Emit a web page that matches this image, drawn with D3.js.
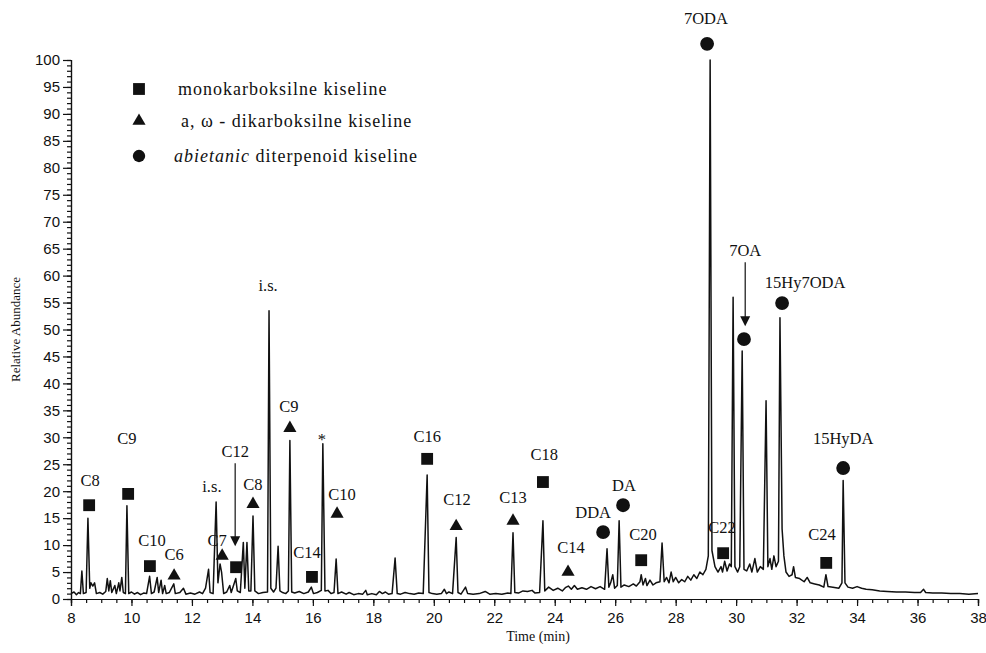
<!DOCTYPE html>
<html>
<head>
<meta charset="utf-8">
<script src="https://cdn.jsdelivr.net/npm/d3@7"></script>
<style>
    body { margin: 0; background: #fff; }
    svg { display: block; font-family: "Liberation Serif", "DejaVu Serif", serif; }
    .axis text { font-size: 15px; fill: #111; }
    .axis path, .axis line { stroke: #111; stroke-width: 1.2; }
    .peak-label { font-size: 16.5px; fill: #111; text-anchor: middle; }
    .legend-label { font-size: 18px; letter-spacing: 1px; fill: #111; }
</style>
</head>
<body>
<div id="chart"></div>
<script>
// Chromatogram trace: [time (min), relative abundance]
const trace = [
    [8.00, 1.0], [8.10, 1.3], [8.18, 0.8], [8.25, 1.2], [8.31, 1.0], [8.36, 5.2], [8.41, 1.0],
    [8.50, 1.2], [8.56, 15.0], [8.62, 2.0], [8.66, 3.0], [8.72, 2.4], [8.78, 3.0], [8.84, 1.0],
    [8.95, 1.2], [9.05, 0.9], [9.15, 1.4], [9.20, 3.8], [9.25, 1.5], [9.30, 3.4], [9.35, 1.2],
    [9.45, 2.5], [9.50, 1.0], [9.58, 3.0], [9.62, 1.5], [9.68, 4.0], [9.73, 1.2], [9.80, 1.0],
    [9.85, 17.3], [9.91, 1.0], [10.0, 1.3], [10.1, 0.9], [10.2, 1.2], [10.3, 0.8], [10.4, 1.1],
    [10.5, 1.0], [10.6, 4.2], [10.66, 1.0], [10.75, 1.3], [10.85, 4.0], [10.9, 1.2], [10.98, 3.5],
    [11.03, 1.0], [11.1, 2.5], [11.15, 1.0], [11.25, 1.2], [11.4, 2.8], [11.45, 1.0], [11.6, 1.2],
    [11.72, 2.0], [11.8, 0.9], [11.95, 1.1], [12.1, 0.9], [12.25, 1.3], [12.35, 1.0], [12.45, 2.0],
    [12.55, 5.5], [12.6, 1.2], [12.7, 1.0], [12.8, 18.0], [12.86, 3.0], [12.93, 6.5], [12.98, 5.0],
    [13.05, 1.0], [13.15, 1.3], [13.25, 2.5], [13.3, 1.2], [13.45, 3.8], [13.5, 1.5], [13.6, 1.2],
    [13.7, 10.5], [13.75, 2.0], [13.82, 10.5], [13.88, 1.5], [13.95, 1.5], [14.02, 15.4], [14.08, 1.5],
    [14.2, 1.0], [14.35, 1.2], [14.5, 1.3], [14.55, 53.5], [14.61, 2.0], [14.7, 1.3], [14.78, 2.0],
    [14.85, 9.8], [14.91, 1.5], [15.0, 1.2], [15.1, 1.0], [15.19, 1.5], [15.24, 29.4], [15.3, 1.3],
    [15.4, 1.1], [15.55, 1.4], [15.7, 1.0], [15.85, 1.3], [15.95, 2.2], [16.02, 1.0], [16.15, 1.2],
    [16.28, 1.6], [16.33, 28.8], [16.4, 1.5], [16.5, 1.6], [16.6, 1.0], [16.7, 1.2], [16.77, 7.4],
    [16.83, 1.0], [16.95, 1.3], [17.1, 0.9], [17.2, 1.2], [17.35, 0.8], [17.5, 1.0], [17.65, 0.9],
    [17.75, 1.6], [17.8, 0.8], [17.95, 1.0], [18.1, 0.8], [18.2, 1.4], [18.3, 1.0], [18.4, 1.3],
    [18.5, 0.9], [18.62, 1.0], [18.72, 7.6], [18.79, 1.0], [18.9, 0.9], [19.05, 1.2], [19.2, 1.0],
    [19.35, 0.9], [19.5, 1.1], [19.65, 1.0], [19.78, 23.0], [19.84, 1.2], [19.95, 1.0], [20.1, 0.9],
    [20.25, 1.0], [20.35, 1.8], [20.42, 1.0], [20.5, 1.3], [20.62, 1.0], [20.74, 11.4], [20.8, 1.2],
    [20.9, 0.9], [21.05, 2.2], [21.12, 1.0], [21.3, 0.9], [21.5, 1.0], [21.7, 1.4], [21.85, 0.9],
    [22.05, 1.0], [22.25, 0.9], [22.45, 1.1], [22.55, 1.0], [22.62, 12.3], [22.68, 1.2], [22.8, 1.1],
    [22.95, 1.5], [23.1, 1.4], [23.25, 1.6], [23.35, 1.1], [23.5, 1.2], [23.61, 14.5], [23.67, 1.5],
    [23.8, 2.2], [23.95, 1.6], [24.1, 2.0], [24.25, 1.5], [24.35, 2.1], [24.45, 2.4], [24.55, 1.8],
    [24.65, 2.5], [24.75, 1.8], [24.9, 2.1], [25.05, 1.8], [25.2, 2.3], [25.35, 1.9], [25.5, 2.3],
    [25.65, 1.8], [25.73, 9.3], [25.79, 2.2], [25.85, 3.0], [25.92, 4.5], [25.98, 2.0], [26.07, 2.5],
    [26.13, 14.5], [26.19, 2.2], [26.3, 2.6], [26.45, 2.3], [26.6, 2.8], [26.7, 2.4], [26.82, 3.2],
    [26.86, 4.5], [26.92, 2.6], [27.0, 3.8], [27.05, 2.5], [27.15, 3.5], [27.25, 2.6], [27.35, 3.0],
    [27.48, 3.2], [27.55, 10.4], [27.62, 3.2], [27.7, 4.0], [27.78, 3.0], [27.85, 5.0], [27.92, 3.2],
    [28.0, 4.0], [28.1, 3.0], [28.2, 3.6], [28.3, 3.2], [28.4, 4.2], [28.5, 3.5], [28.6, 4.5],
    [28.7, 3.8], [28.8, 5.0], [28.9, 4.5], [29.0, 5.5], [29.08, 8.0], [29.14, 100], [29.2, 9.0],
    [29.3, 6.0], [29.4, 5.0], [29.5, 6.0], [29.55, 5.0], [29.62, 7.0], [29.7, 5.2], [29.78, 6.5],
    [29.84, 6.0], [29.9, 56], [29.96, 6.0], [30.05, 5.0], [30.12, 6.0], [30.2, 46], [30.26, 5.5],
    [30.35, 5.2], [30.45, 6.5], [30.52, 5.0], [30.62, 7.5], [30.7, 5.0], [30.8, 6.0], [30.9, 5.5],
    [30.99, 36.8], [31.05, 6.0], [31.12, 7.5], [31.18, 5.5], [31.25, 8.0], [31.32, 6.0], [31.4, 7.0],
    [31.45, 52.2], [31.52, 13], [31.58, 8.0], [31.65, 5.0], [31.75, 4.2], [31.85, 4.5], [31.9, 6.0],
    [31.96, 4.0], [32.1, 3.8], [32.25, 3.2], [32.35, 4.0], [32.45, 3.0], [32.6, 2.8], [32.75, 2.6],
    [32.9, 2.2], [32.97, 4.5], [33.04, 2.3], [33.2, 2.2], [33.4, 2.0], [33.5, 3.0], [33.54, 22],
    [33.6, 3.0], [33.7, 2.2], [33.85, 2.0], [34.0, 2.3], [34.15, 2.0], [34.3, 1.8], [34.5, 1.7],
    [34.75, 1.5], [35.0, 1.4], [35.3, 1.3], [35.6, 1.3], [35.9, 1.2], [36.1, 1.2], [36.2, 1.8],
    [36.27, 1.2], [36.5, 1.1], [36.8, 1.1], [37.1, 1.0], [37.4, 1.0], [37.7, 0.9], [38.0, 1.0]
];

// Peak annotations: marker at (t, v), label at (lt, lv)
const monoAcids = [
    {name: "C8", t: 8.60, v: 17.4, lt: 8.63, lv: 22.1},
    {name: "C9", t: 9.89, v: 19.5, lt: 9.85, lv: 29.9},
    {name: "C10", t: 10.61, v: 6.1, lt: 10.68, lv: 10.9},
    {name: "C12", t: 13.46, v: 5.9, lt: 13.43, lv: 27.5, arrow: [25.2, 9.8]},
    {name: "C14", t: 15.97, v: 4.1, lt: 15.81, lv: 8.7},
    {name: "C16", t: 19.78, v: 26.0, lt: 19.78, lv: 30.2},
    {name: "C18", t: 23.61, v: 21.7, lt: 23.65, lv: 26.9},
    {name: "C20", t: 26.86, v: 7.2, lt: 26.92, lv: 12.1},
    {name: "C22", t: 29.57, v: 8.5, lt: 29.53, lv: 13.4},
    {name: "C24", t: 32.98, v: 6.7, lt: 32.84, lv: 12.1}
];

const diAcids = [
    {name: "C6", t: 11.41, v: 4.3, lt: 11.41, lv: 8.3},
    {name: "C7", t: 13.00, v: 8.0, lt: 12.83, lv: 10.9},
    {name: "C8", t: 14.02, v: 17.6, lt: 14.02, lv: 21.3},
    {name: "C9", t: 15.24, v: 31.7, lt: 15.21, lv: 35.8},
    {name: "C10", t: 16.80, v: 15.8, lt: 16.96, lv: 19.5},
    {name: "C12", t: 20.74, v: 13.5, lt: 20.77, lv: 18.6},
    {name: "C13", t: 22.62, v: 14.5, lt: 22.62, lv: 18.9},
    {name: "C14", t: 24.44, v: 5.0, lt: 24.54, lv: 9.6}
];

const abieticAcids = [
    {name: "DDA", t: 25.60, v: 12.4, lt: 25.27, lv: 16.1},
    {name: "DA", t: 26.26, v: 17.4, lt: 26.29, lv: 21.2},
    {name: "7ODA", t: 29.04, v: 103.0, lt: 29.00, lv: 107.8},
    {name: "7OA", t: 30.26, v: 48.2, lt: 30.30, lv: 64.7, arrow: [62.5, 50.6]},
    {name: "15Hy7ODA", t: 31.52, v: 54.9, lt: 32.28, lv: 58.8},
    {name: "15HyDA", t: 33.54, v: 24.3, lt: 33.54, lv: 29.9}
];

const otherLabels = [
    {name: "i.s.", lt: 12.66, lv: 21.0},
    {name: "i.s.", lt: 14.52, lv: 58.3},
    {name: "*", lt: 16.30, lv: 29.6}
];

const legendItems = ["mono", "di", "abietic"];

const yMajorTicks = d3.range(0, 101, 5);
const yMinorTicks = d3.range(0, 101, 1);
const xMajorTicks = d3.range(8, 39, 2);
const xMinorTicks = d3.range(8, 38.01, 0.5);

const width = 986, height = 653;

const svg = d3.select("#chart").append("svg")
    .attr("width", width)
    .attr("height", height);

const x = d3.scaleLinear().domain([8, 38]).range([71, 978]);
const y = d3.scaleLinear().domain([0, 100]).range([599, 60]);

// Axes
const yAxisMinor = d3.axisLeft(y).tickValues(yMinorTicks).tickSize(4).tickFormat("");
const yAxisMajor = d3.axisLeft(y).tickValues(yMajorTicks).tickSize(8).tickPadding(3);
const xAxisMinor = d3.axisBottom(x).tickValues(xMinorTicks).tickSize(4).tickFormat("");
const xAxisMajor = d3.axisBottom(x).tickValues(xMajorTicks).tickSize(7).tickPadding(6);

svg.append("g").attr("class", "axis").attr("transform", `translate(${x(8)},0)`).call(yAxisMinor);
svg.append("g").attr("class", "axis").attr("transform", `translate(${x(8)},0)`).call(yAxisMajor);
svg.append("g").attr("class", "axis").attr("transform", `translate(0,${y(0)})`).call(xAxisMinor);
svg.append("g").attr("class", "axis").attr("transform", `translate(0,${y(0)})`).call(xAxisMajor);
svg.selectAll(".axis .domain").attr("stroke-width", 1.5);

svg.append("text")
    .attr("transform", `translate(20, ${y(50)}) rotate(-90)`)
    .attr("text-anchor", "middle")
    .attr("font-size", 13)
    .attr("fill", "#111")
    .text("Relative Abundance");

svg.append("text")
    .attr("x", 538)
    .attr("y", 641)
    .attr("text-anchor", "middle")
    .attr("font-size", 14)
    .attr("fill", "#111")
    .text("Time (min)");

// Trace
const line = d3.line()
    .x(d => x(d[0]))
    .y(d => y(d[1]));

svg.append("path")
    .datum(trace)
    .attr("fill", "none")
    .attr("stroke", "#111")
    .attr("stroke-width", 1.5)
    .attr("stroke-linejoin", "round")
    .attr("d", line);

// Marker shapes
const symSquare = d3.symbol(d3.symbolSquare, 140)();
const symTriangle = d3.symbol(d3.symbolTriangle, 75)();
const symCircle = d3.symbol(d3.symbolCircle, 150)();

function drawMarkers(data, path, cls) {
    svg.selectAll(`.${cls}`)
        .data(data)
        .join("path")
        .attr("class", cls)
        .attr("d", path)
        .attr("fill", "#111")
        .attr("transform", d => `translate(${x(d.t)},${y(d.v)})`);

    svg.selectAll(`.${cls}-label`)
        .data(data)
        .join("text")
        .attr("class", `peak-label ${cls}-label`)
        .attr("x", d => x(d.lt))
        .attr("y", d => y(d.lv))
        .attr("dy", "0.35em")
        .text(d => d.name);

    // Arrows (C12, 7OA)
    const arrows = data.filter(d => d.arrow);
    svg.selectAll(`.${cls}-arrow`)
        .data(arrows)
        .join("line")
        .attr("class", `${cls}-arrow`)
        .attr("x1", d => x(d.lt))
        .attr("x2", d => x(d.lt))
        .attr("y1", d => y(d.arrow[0]))
        .attr("y2", d => y(d.arrow[1]) - 6)
        .attr("stroke", "#111")
        .attr("stroke-width", 1.2);

    svg.selectAll(`.${cls}-head`)
        .data(arrows)
        .join("path")
        .attr("class", `${cls}-head`)
        .attr("d", d => {
            const ax = x(d.lt), ay = y(d.arrow[1]);
            return `M${ax - 5},${ay - 10}L${ax + 5},${ay - 10}L${ax},${ay}Z`;
        })
        .attr("fill", "#111");
}

drawMarkers(monoAcids, symSquare, "mono");
drawMarkers(diAcids, symTriangle, "di");
drawMarkers(abieticAcids, symCircle, "abietic");

svg.selectAll(".other-label")
    .data(otherLabels)
    .join("text")
    .attr("class", "peak-label other-label")
    .attr("x", d => x(d.lt))
    .attr("y", d => y(d.lv))
    .attr("dy", "0.35em")
    .attr("font-size", d => d.name === "*" ? 12 : 15)
    .text(d => d.name);

// Legend
const legend = svg.append("g")
    .attr("class", "legend")
    .attr("transform", "translate(139, 89)");

const legendShapes = {mono: symSquare, di: symTriangle, abietic: d3.symbol(d3.symbolCircle, 120)()};

legend.selectAll(".legend-symbol")
    .data(legendItems)
    .join("path")
    .attr("class", "legend-symbol")
    .attr("d", d => legendShapes[d])
    .attr("fill", "#111")
    .attr("transform", (d, i) => `translate(0, ${[0, 32, 67][i]})`);

const legendText = legend.selectAll(".legend-label")
    .data(legendItems)
    .join("text")
    .attr("class", "legend-label")
    .attr("x", (d, i) => [39, 42, 35][i])
    .attr("y", (d, i) => [0, 32, 67][i])
    .attr("dy", "0.35em");

legendText.filter(d => d === "mono").text("monokarboksilne kiseline");
legendText.filter(d => d === "di").text("a, ω - dikarboksilne kiseline");
legendText.filter(d => d === "abietic").each(function () {
    const t = d3.select(this);
    t.append("tspan").attr("font-style", "italic").text("abietanic");
    t.append("tspan").text(" diterpenoid kiseline");
});
</script>
</body>
</html>
